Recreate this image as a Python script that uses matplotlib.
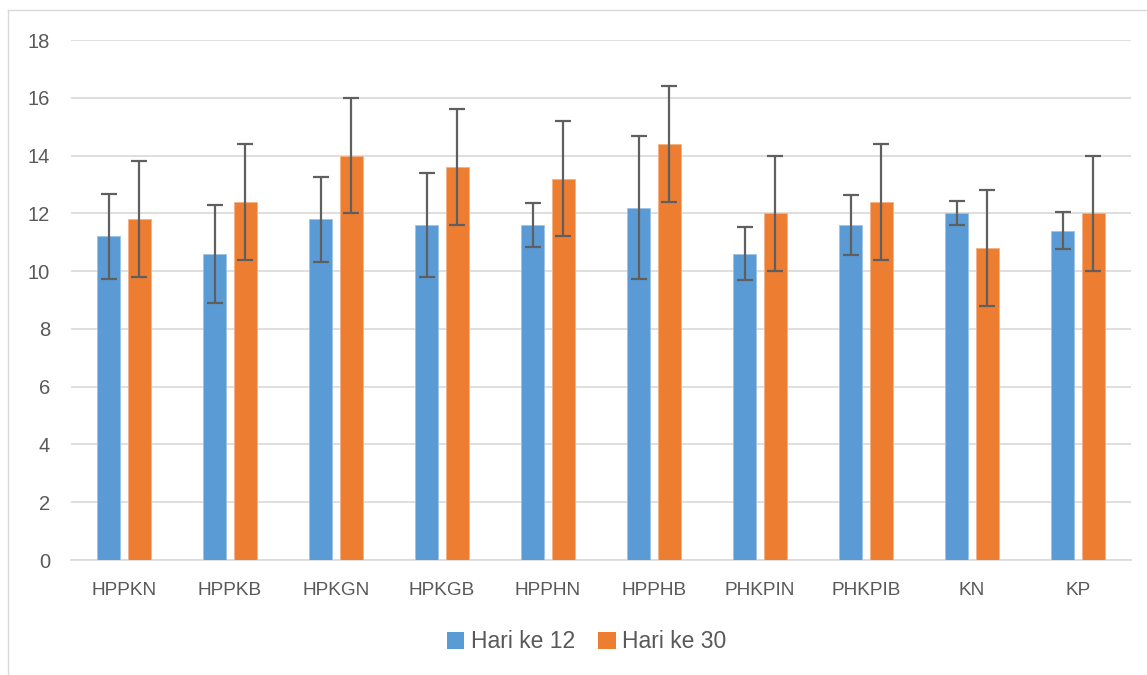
import matplotlib
matplotlib.use("Agg")
import matplotlib.pyplot as plt
import numpy as np
from matplotlib.lines import Line2D
from matplotlib.patches import Patch

categories = ["HPPKN", "HPPKB", "HPKGN", "HPKGB", "HPPHN", "HPPHB", "PHKPIN", "PHKPIB", "KN", "KP"]
series_names = ["Hari ke 12", "Hari ke 30"]
day12 = [11.2, 10.6, 11.8, 11.6, 11.6, 12.2, 10.6, 11.6, 12.0, 11.4]
day12_err = [1.47, 1.7, 1.47, 1.8, 0.77, 2.46, 0.92, 1.03, 0.41, 0.64]
day30 = [11.8, 12.4, 14.0, 13.6, 13.2, 14.4, 12.0, 12.4, 10.8, 12.0]
day30_err = [2.0, 2.0, 2.0, 2.0, 2.0, 2.0, 2.0, 2.0, 2.0, 2.0]
yticks = [0, 2, 4, 6, 8, 10, 12, 14, 16, 18]

blue = "#5B9BD5"
orange = "#ED7D31"
txt = "#595959"
grid = "#D9D9D9"

plt.rcParams['font.family'] = ['Liberation Sans', 'DejaVu Sans']

W, H = 1147, 675
fig = plt.figure(figsize=(W / 100, H / 100), dpi=100)
ax = fig.add_axes([71 / W, 1 - 560 / H, (1131 - 71) / W, (560 - 40) / H])

x = np.arange(len(categories))
bw = 0.217
off = 0.143
ekw = dict(ecolor="#5F5F5F", elinewidth=1.6, capsize=5.5, capthick=1.6)
ax.bar(x - off, day12, bw, color=blue, edgecolor="#9CC3E6", linewidth=0.6,
       yerr=day12_err, error_kw=ekw, zorder=3)
ax.bar(x + off, day30, bw, color=orange, edgecolor="#F4B183", linewidth=0.6,
       yerr=day30_err, error_kw=ekw, zorder=3)

ax.set_xlim(-0.5, len(categories) - 0.5)
ax.set_ylim(0, 18)
ax.set_yticks(yticks)
ax.set_yticklabels([str(v) for v in yticks])
ax.set_xticks(x)
ax.set_xticklabels(categories)
ax.yaxis.grid(True, color=grid, linewidth=1.2, zorder=0)
ax.set_axisbelow(True)
for s in ["top", "right", "left"]:
    ax.spines[s].set_visible(False)
ax.spines["bottom"].set_color(grid)
ax.spines["bottom"].set_linewidth(1.2)
ax.tick_params(axis="x", length=0, colors=txt, labelsize=13.7, pad=16)
ax.tick_params(axis="y", length=0, colors=txt, labelsize=14.5, pad=15)

handles = [Patch(facecolor=blue, edgecolor="none"), Patch(facecolor=orange, edgecolor="none")]
leg = fig.legend(handles, series_names, loc="center", bbox_to_anchor=(587 / W, 1 - 642 / H),
                 ncol=2, frameon=False, fontsize=16.5, handlelength=0.75, handleheight=0.75,
                 handletextpad=0.3, columnspacing=1.0)
for t in leg.get_texts():
    t.set_color(txt)

# chart border
fig.add_artist(Line2D([8 / W, 1.0], [1 - 10 / H, 1 - 10 / H], transform=fig.transFigure, color=grid, linewidth=1))
fig.add_artist(Line2D([8 / W, 8 / W], [0.0, 1 - 10 / H], transform=fig.transFigure, color=grid, linewidth=1))

fig.savefig("out.png", dpi=100, facecolor="white")
